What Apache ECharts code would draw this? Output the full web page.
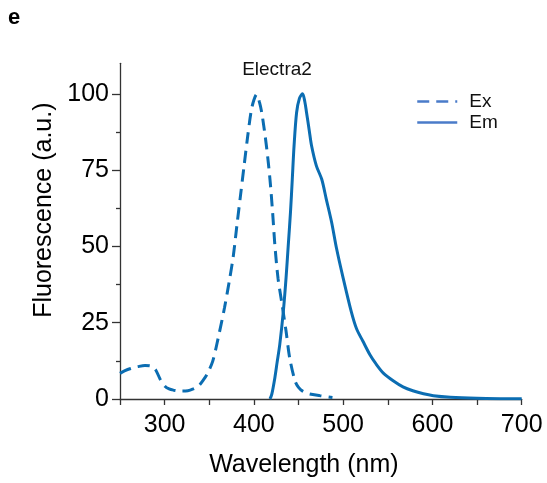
<!DOCTYPE html>
<html>
<head>
<meta charset="utf-8">
<script src="https://cdn.jsdelivr.net/npm/echarts@6/dist/echarts.min.js"></script>
<style>html,body{margin:0;padding:0;background:#fff}#c{width:547px;height:483px}</style>
</head>
<body>
<div id="c"></div>
<script>
const exWavelength = [250,255,262,270,278,285,290,295,300,305,310,318,326,332,338,344,348,354,360,367,373,377,381,385,389,393,397,400,403,406,409,414,418,421,423.5,427,431,436,440,446,450,455,462,474,488];
const exValues     = [8.4,9.2,10,10.6,11,10.8,9.5,6.5,4.3,3.3,2.9,2.6,2.7,3.3,4.3,6.5,8.4,12.5,20,29.8,39.6,47,57,66.7,76.4,86,94.5,98,99.8,97.5,93.5,83,72,61,50.4,39.6,32,22.3,13.6,6,3.8,2.5,1.7,1.1,0.5];
const emWavelength = [418,420,423.5,426,429,433,436,438.5,441,443,445,447.8,451,454.5,457,459,462,464.6,470,476,481,487,492.6,500,509,515,522,530,537,545,556,567,578,590,601,620,650,680,700];
const emValues     = [0,1.5,7,12,17.9,28.8,39.6,50.4,61.3,72,83,93.8,98.5,100,97.5,93.8,88,83,76.4,72,65.6,58,49.3,39.6,28.7,23,19,14.5,11.4,8.5,6,4,2.7,1.7,1.1,0.6,0.25,0.1,0.05];
const xTicks = [300,400,500,600,700];
const yTicks = [0,25,50,75,100];
const yMinorTicks = [12.5,37.5,62.5,87.5];
const seriesNames = ['Ex','Em'];
const panelLabel = 'e';
const chartTitle = 'Electra2';

const toPairs = (xs, ys) => xs.map((x, i) => [x, ys[i]]);
const chart = echarts.init(document.getElementById('c'), null, {renderer: 'canvas'});
const FONT = '"Liberation Sans", Arial, sans-serif';
const BLUE = '#0b6db2';
const AX = '#333';
chart.setOption({
  animation: false,
  backgroundColor: '#fff',
  textStyle: {fontFamily: FONT},
  graphic: [
    {type: 'text', left: 8, top: 7, style: {text: panelLabel, font: 'bold 22px ' + FONT, fill: '#000'}},
    {type: 'text', x: 277, y: 70, style: {text: chartTitle, font: '19px ' + FONT, fill: '#111', align: 'center', verticalAlign: 'middle'}}
  ],
  grid: {left: 120, right: 25.3, top: 63.3, bottom: 81.3, containLabel: false},
  legend: {
    orient: 'vertical', left: 416, top: 92, padding: 0, itemWidth: 40, itemHeight: 14, itemGap: 2,
    textStyle: {fontSize: 19, color: '#111', lineHeight: 19, padding: [0, 0, 0, 7], fontFamily: FONT},
    lineStyle: {color: '#4a7bc9', width: 2.5},
    itemStyle: {opacity: 0},
    data: seriesNames
  },
  xAxis: {
    type: 'value', min: 250, max: 700, interval: 50,
    name: 'Wavelength (nm)', nameLocation: 'middle', nameGap: 54,
    nameTextStyle: {fontSize: 25, color: '#000', padding: [0, 34, 0, 0]},
    axisLine: {lineStyle: {color: AX, width: 1.3}},
    axisTick: {show: true, length: 6, lineStyle: {color: AX, width: 1.3}},
    axisLabel: {fontSize: 25, color: '#000', margin: 14,
      formatter: v => xTicks.includes(v) ? String(v) : ''},
    splitLine: {show: false}
  },
  yAxis: [{
    type: 'value', min: 0, max: 110, interval: 25,
    name: 'Fluorescence (a.u.)', nameLocation: 'middle', nameGap: 58,
    nameTextStyle: {fontSize: 25, color: '#000', padding: [0, 0, 0, 42]},
    axisLine: {show: true, lineStyle: {color: AX, width: 1.3}},
    axisTick: {show: true, length: 8, customValues: yTicks, lineStyle: {color: AX, width: 1.3}},
    axisLabel: {fontSize: 25, color: '#000', margin: 11, customValues: yTicks, padding: [5, 0, 0, 0],
      verticalAlign: 'middle', verticalAlignMinLabel: 'middle', verticalAlignMaxLabel: 'middle', hideOverlap: false},
    splitLine: {show: false}
  }, {
    type: 'value', min: 0, max: 110, position: 'left',
    axisLine: {show: false},
    axisTick: {show: true, length: 4, customValues: yMinorTicks, lineStyle: {color: AX, width: 1.3}},
    axisLabel: {show: false},
    splitLine: {show: false}
  }],
  series: [
    {name: seriesNames[0], type: 'line', data: toPairs(exWavelength, exValues), showSymbol: false, symbol: 'none',
     smooth: 0.3, lineStyle: {color: BLUE, width: 3, type: [12, 7]}, itemStyle: {color: BLUE}},
    {name: seriesNames[1], type: 'line', data: toPairs(emWavelength, emValues), showSymbol: false, symbol: 'none',
     smooth: 0.3, lineStyle: {color: BLUE, width: 3}, itemStyle: {color: BLUE}}
  ]
});
</script>
</body>
</html>
